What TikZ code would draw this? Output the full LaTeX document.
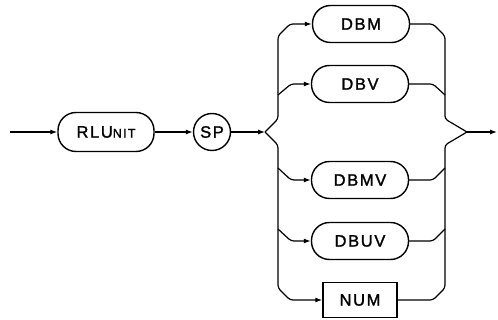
\documentclass[tikz,border=0pt]{standalone}
\usepackage{fontspec}
\setmainfont{Liberation Sans}[LetterSpace=10, FakeBold=1.5]
\usetikzlibrary{positioning, arrows.meta}
\tikzset{
  kwbox/.style={draw, line width=1.4pt, rounded corners=18pt, minimum width=97pt,
    minimum height=37pt, font=\fontsize{16.5}{18}\selectfont, inner sep=0pt},
  parbox/.style={draw, line width=1.4pt, minimum width=74pt, minimum height=35pt,
    font=\fontsize{16.5}{18}\selectfont, inner sep=0pt},
  rail/.style={line width=1.2pt, rounded corners=3pt}
}
\begin{document}
\begin{tikzpicture}[>={Latex[length=7pt,width=5pt]}, x=1pt, y=-1pt]
\useasboundingbox (0,0) rectangle (498,320);
% main line
\node[kwbox, minimum width=96pt, minimum height=39pt] (rlunit) at (106,132) {RLU{\fontsize{12.5}{14}\selectfont NIT}};
\node[circle, draw, line width=1.4pt, minimum size=37pt, inner sep=0pt,
  font=\fontsize{16.5}{18}\selectfont] (sp) at (212,132) {SP};
\coordinate (start) at (10,132);
\coordinate (forkL) at (265,132);
\coordinate (forkR) at (467,132);
\coordinate (stop) at (497,132);
\draw[rail, ->] (start) -- (rlunit);
\draw[rail, ->] (rlunit) -- (sp);
\draw[rail, ->] (sp) -- (forkL);
\draw[rail, ->] (forkR) -- (stop);

% choices
\node[kwbox] (dbm) at (361,24) {DBM};
\node[kwbox] (dbv) at (360,84) {DBV};
\node[kwbox] (dbmv) at (360,180) {DBMV};
\node[kwbox] (dbuv) at (360,241) {DBUV};
\node[parbox] (num) at (360,300) {NUM};

% left rail
\draw[rail, ->] (forkL) -- (278,119) -- (278,36) -- (290,24) -- (dbm);
\draw[rail, ->] (278,95) -- (291,84) -- (dbv);
\draw[rail, ->] (forkL) -- (278,145) -- (278,288) -- (290,300) -- (num);
\draw[rail, ->] (278,168) -- (291,180) -- (dbmv);
\draw[rail, ->] (278,229) -- (291,241) -- (dbuv);

% right rail
\draw[rail] (dbm) -- (433,24) -- (445,36) -- (445,119) -- (forkR);
\draw[rail] (dbv) -- (433,84) -- (445,95);
\draw[rail] (num) -- (433,300) -- (445,288) -- (445,145) -- (forkR);
\draw[rail] (dbmv) -- (433,180) -- (445,168);
\draw[rail] (dbuv) -- (433,241) -- (445,229);
\end{tikzpicture}
\end{document}
